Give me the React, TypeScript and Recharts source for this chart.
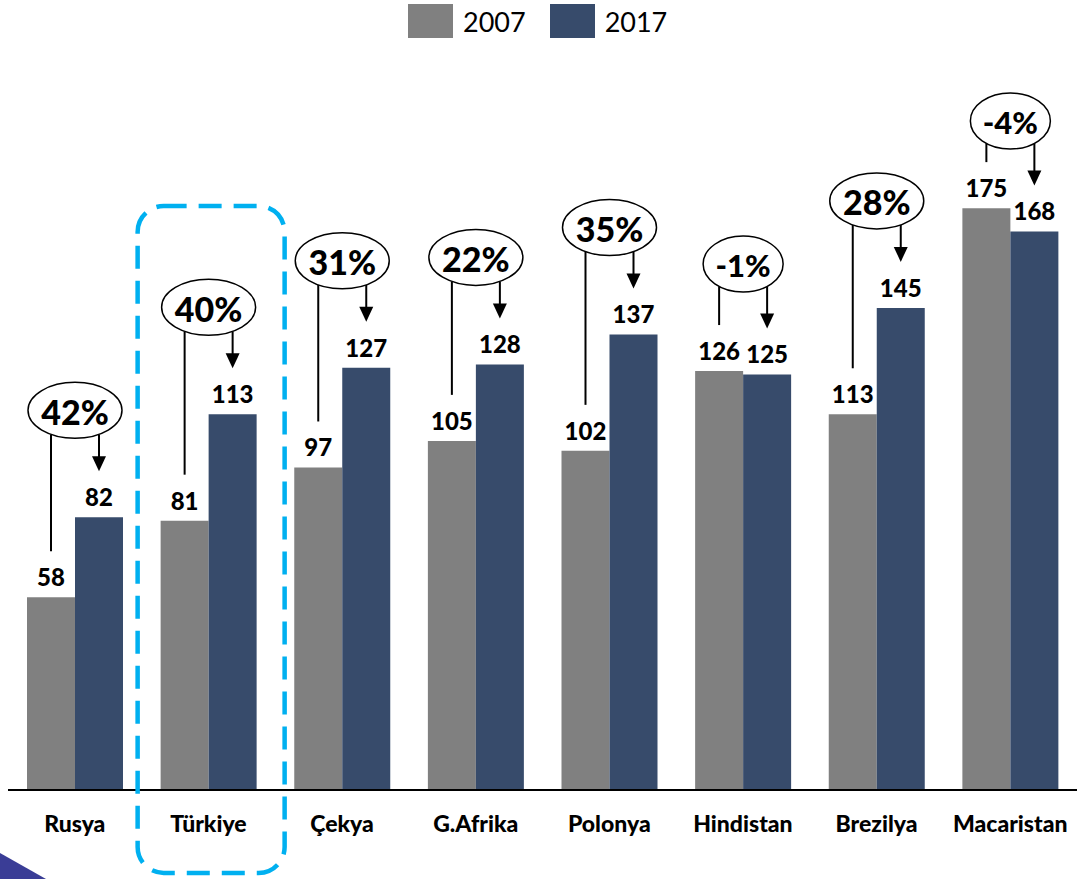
import React from 'react';
import { BarChart, Bar, XAxis, YAxis, LabelList } from 'recharts';

const countries = ['Rusya', 'Türkiye', 'Çekya', 'G.Afrika', 'Polonya', 'Hindistan', 'Brezilya', 'Macaristan'];
const values2007 = [58, 81, 97, 105, 102, 126, 113, 175];
const values2017 = [82, 113, 127, 128, 137, 125, 145, 168];
const changes = ['42%', '40%', '31%', '22%', '35%', '-1%', '28%', '-4%'];
const highlighted = 'Türkiye';

const GRAY = '#808080';
const NAVY = '#374b6b';
const FONT = 'Lato, "Open Sans", sans-serif';

const chartData = countries.map((name, i) => ({
  name,
  v2007: values2007[i],
  v2017: values2017[i],
}));

// annotation drawn on the 2017 bars: ellipse with % change + connector lines
function ChangeNote(props: any) {
  const { x, y, width, height, index } = props;
  if (x == null || !height) return null;
  const base = y + height;
  const pxPerUnit = height / values2017[index];
  const grayTop = base - values2007[index] * pxPerUnit;
  const navyTop = y;
  const cx = x; // gray right edge == navy left edge
  const grayX = x - width / 2;
  const navyX = x + width / 2;
  const text = changes[index];
  const small = text.startsWith('-');
  const rx = small ? 40 : 47;
  const ry = 28;
  const cy = Math.max(Math.min(grayTop, navyTop) - 107, 121);
  const edge = (px: number) => cy + ry * Math.sqrt(Math.max(0, 1 - ((px - cx) / rx) ** 2));
  const tip = navyTop - 46;
  const isHl = countries[index] === highlighted;
  return (
    <g>
      {isHl && (
        <rect
          x={cx - 71}
          y={base - 584}
          width={147}
          height={667}
          rx={26}
          ry={26}
          fill="none"
          stroke="#00b0f0"
          strokeWidth={4.5}
          strokeDasharray="23 12"
        />
      )}
      <line x1={grayX} y1={edge(grayX)} x2={grayX} y2={grayTop - 46} stroke="#000" strokeWidth={2} />
      <line x1={navyX} y1={edge(navyX)} x2={navyX} y2={tip - 14} stroke="#000" strokeWidth={2} />
      <polygon points={`${navyX - 7},${tip - 15} ${navyX + 7},${tip - 15} ${navyX},${tip}`} fill="#000" />
      <ellipse cx={cx} cy={cy} rx={rx} ry={ry} fill="#fff" stroke="#000" strokeWidth={1.5} />
      <text
        x={cx}
        y={cy + 1}
        textAnchor="middle"
        dominantBaseline="central"
        fontFamily={FONT}
        fontWeight={900}
        fontSize={small ? 31 : 34}
        fill="#000"
      >
        {text}
      </text>
    </g>
  );
}

function Legend() {
  const item = (color: string, label: string) => (
    <div style={{ display: 'flex', alignItems: 'center', marginRight: 24 }}>
      <div style={{ width: 45, height: 34, background: color, marginRight: 10 }} />
      <span style={{ fontFamily: FONT, fontSize: 27, color: '#000' }}>{label}</span>
    </div>
  );
  return (
    <div style={{ position: 'absolute', left: 408, top: 4, display: 'flex' }}>
      {item(GRAY, '2007')}
      {item(NAVY, '2017')}
    </div>
  );
}

const labelStyle = { fontFamily: FONT, fontWeight: 900, fontSize: 24, fill: '#000' };

export default function App() {
  return (
    <div style={{ position: 'absolute', left: 0, top: 0, width: 1077, height: 879, background: '#fff', overflow: 'hidden' }}>
      <Legend />
      <BarChart
        width={1077}
        height={879}
        data={chartData}
        margin={{ top: 125, right: 0, bottom: 29, left: 8 }}
        barGap={0}
        barSize={48}
      >
        <XAxis
          dataKey="name"
          height={60}
          tickLine={false}
          tickSize={0}
          tickMargin={26}
          axisLine={{ stroke: '#000', strokeWidth: 2 }}
          tick={{ fontFamily: FONT, fontWeight: 900, fontSize: 23, fill: '#000' }}
          interval={0}
        />
        <YAxis hide domain={[0, 200]} />
        <Bar dataKey="v2007" fill={GRAY} isAnimationActive={false}>
          <LabelList dataKey="v2007" position="top" offset={11} style={labelStyle} />
        </Bar>
        <Bar dataKey="v2017" fill={NAVY} isAnimationActive={false}>
          <LabelList dataKey="v2017" position="top" offset={11} style={labelStyle} />
          <LabelList dataKey="v2017" content={<ChangeNote />} />
        </Bar>
      </BarChart>
      <svg style={{ position: 'absolute', left: 0, top: 0 }} width={1077} height={879} pointerEvents="none">
        <polygon points="0,853 46,879 0,879" fill="#3a3d96" />
      </svg>
    </div>
  );
}
